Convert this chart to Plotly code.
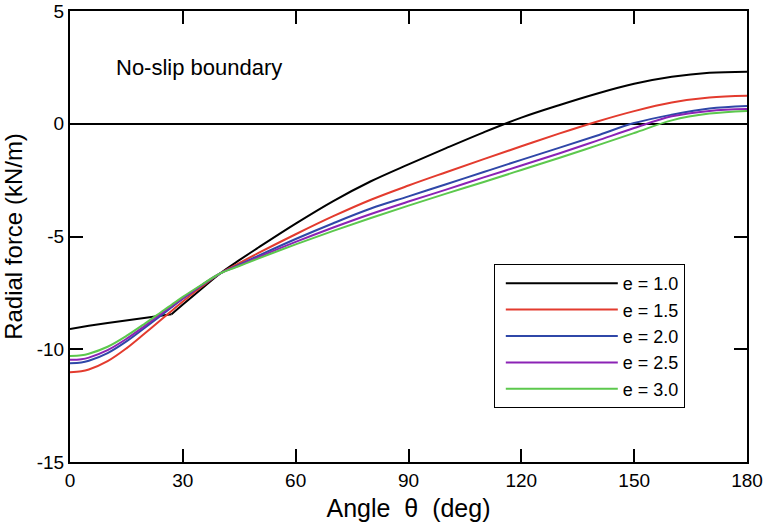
import plotly.graph_objects as go

theta = [0, 3, 5, 10, 15, 20, 25, 27, 30, 35, 40, 45, 50, 60, 70, 80, 90,
         100, 110, 120, 130, 140, 150, 160, 170, 180]

f_e10 = [-9.10, -9.00, -8.96, -8.84, -8.73, -8.62, -8.50, -8.45, -8.02, -7.32, -6.63,
         -6.05, -5.50, -4.43, -3.43, -2.55, -1.80, -1.08, -0.38, 0.27, 0.82, 1.33,
         1.77, 2.08, 2.26, 2.31]
f_e15 = [-11.02, -10.98, -10.90, -10.53, -9.96, -9.28, -8.58, -8.30, -7.88, -7.23, -6.63,
         -6.18, -5.74, -4.90, -4.10, -3.37, -2.74, -2.15, -1.57, -1.00, -0.44, 0.09,
         0.56, 0.94, 1.16, 1.24]
f_e20 = [-10.62, -10.59, -10.51, -10.17, -9.65, -9.03, -8.40, -8.14, -7.76, -7.17, -6.63,
         -6.25, -5.86, -5.11, -4.41, -3.76, -3.22, -2.68, -2.14, -1.60, -1.07, -0.53,
         0.03, 0.40, 0.68, 0.79]
f_e25 = [-10.47, -10.44, -10.37, -10.04, -9.54, -8.95, -8.34, -8.09, -7.73, -7.16, -6.63,
         -6.28, -5.92, -5.24, -4.60, -4.00, -3.45, -2.92, -2.38, -1.85, -1.32, -0.76,
         -0.19, 0.33, 0.57, 0.65]
f_e30 = [-10.30, -10.27, -10.20, -9.89, -9.41, -8.85, -8.26, -8.03, -7.68, -7.14, -6.63,
         -6.31, -5.98, -5.35, -4.75, -4.18, -3.63, -3.10, -2.58, -2.05, -1.52, -0.97,
         -0.41, 0.15, 0.45, 0.57]

series_names = ["e = 1.0", "e = 1.5", "e = 2.0", "e = 2.5", "e = 3.0"]
series_vals = [f_e10, f_e15, f_e20, f_e25, f_e30]
colors = ["#000000", "#e33b2e", "#2f47a8", "#8b23b5", "#5cc84d"]
# e = 1.0 has a sharp corner here (deg); its part before it is straight
kink_theta = [27, None, None, None, None]

x_ticks = [0, 30, 60, 90, 120, 150, 180]
y_ticks = [-15, -10, -5, 0, 5]

FONT = "Liberation Sans, Arial, Helvetica, sans-serif"

fig = go.Figure()
for name, vals, col, kink in zip(series_names, series_vals, colors, kink_theta):
    start = 0
    if kink is not None:
        k = theta.index(kink)
        fig.add_trace(go.Scatter(
            x=theta[:k + 1], y=vals[:k + 1], mode="lines", legendgroup=name,
            showlegend=False, hoverinfo="skip",
            line=dict(color=col, width=2, shape="linear"),
        ))
        start = k
    fig.add_trace(go.Scatter(
        x=theta[start:], y=vals[start:], name=name, mode="lines", legendgroup=name,
        line=dict(color=col, width=2, shape="spline", smoothing=1.0),
    ))

axis_common = dict(
    showline=True, linecolor="black", linewidth=2, mirror="ticks",
    ticks="inside", ticklen=13, tickwidth=1.5, tickcolor="black",
    showgrid=False, automargin=False,
    tickfont=dict(family=FONT, size=19, color="black"),
)

fig.update_xaxes(range=[0, 180], tickvals=x_ticks, ticktext=[str(v) for v in x_ticks],
                 zeroline=False,
                 title=dict(text="Angle  θ  (deg)", font=dict(family=FONT, size=25, color="black"),
                            standoff=10),
                 **axis_common)
fig.update_yaxes(range=[-15, 5], tickvals=y_ticks, ticktext=[str(v) for v in y_ticks],
                 zeroline=True, zerolinecolor="black", zerolinewidth=1.5,
                 title=dict(text="Radial force (kN/m)", font=dict(family=FONT, size=24, color="black"),
                            standoff=8),
                 **axis_common)

fig.add_annotation(x=11.8, y=2.5, xref="x", yref="y", text="No-slip boundary",
                   showarrow=False, xanchor="left", yanchor="middle",
                   font=dict(family=FONT, size=22, color="black"))

fig.update_layout(
    width=765, height=529,
    margin=dict(l=70, r=18, t=11, b=67, autoexpand=False),
    plot_bgcolor="white", paper_bgcolor="white",
    legend=dict(x=0.626, y=0.439, xanchor="left", yanchor="top",
                bordercolor="black", borderwidth=1, bgcolor="white",
                font=dict(family=FONT, size=18, color="black"),
                itemwidth=112, tracegroupgap=3, indentation=6,
                traceorder="normal"),
    showlegend=True,
)

# remove the browser's default 8px body margin so the figure sits at the window origin
fig.write_html("out.html", config={"displayModeBar": False},
               post_script="document.body.style.margin='0';")
